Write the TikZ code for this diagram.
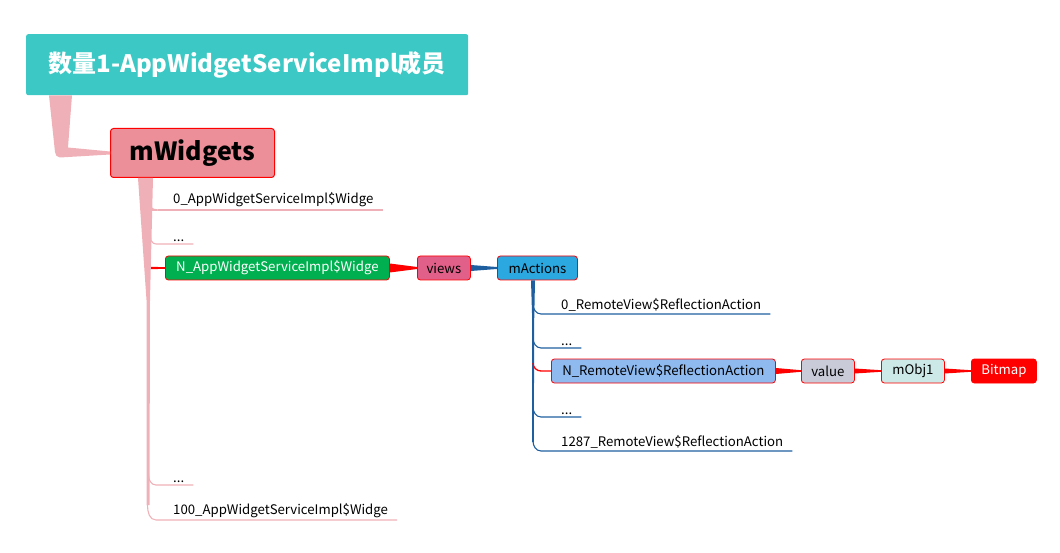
\documentclass[tikz,border=0pt]{standalone}
\usepackage{fontspec}
\setmainfont{Noto Sans CJK SC}
\usetikzlibrary{calc}
\definecolor{teal1}{HTML}{3CC8C4}
\definecolor{mwfill}{HTML}{EC8F99}
\definecolor{pinkc}{HTML}{F0B0B7}
\definecolor{green1}{HTML}{00B050}
\definecolor{viewsf}{HTML}{E0608A}
\definecolor{mactf}{HTML}{2CA8E0}
\definecolor{bluel}{HTML}{1F5F9F}
\definecolor{nremf}{HTML}{8EBAF0}
\definecolor{valuef}{HTML}{C9CCD8}
\definecolor{mobjf}{HTML}{CDE9E7}
\definecolor{redc}{HTML}{FF0000}
\begin{document}
\begin{tikzpicture}[x=1pt,y=-1pt,
  box/.style={draw=redc, line width=0.8pt, rounded corners=3pt, minimum height=24pt, inner xsep=0pt, inner ysep=0pt, font=\fontsize{13.2}{15}\selectfont, text=black, anchor=west},
  lbl/.style={anchor=south west, inner xsep=0pt, inner ysep=2.5pt, font=\fontsize{13.2}{15}\selectfont, text=black},
  pinkl/.style={draw=pinkc, line width=1.1pt},
  bluell/.style={draw=bluel, line width=1.1pt},
  redl/.style={draw=redc, line width=1.3pt}
]
\useasboundingbox (0,0) rectangle (1060,553);

% title
\node[fill=teal1, rounded corners=2pt, minimum width=442pt, minimum height=61pt, inner sep=0pt, anchor=north west, text=white, font=\fontsize{24}{28}\selectfont\bfseries] (title) at (26,34) {数量1-AppWidgetServiceImpl成员};

% mWidgets
\node[draw=redc, line width=1pt, fill=mwfill, rounded corners=3pt, minimum width=164pt, minimum height=49pt, inner sep=0pt, anchor=north west, text=black, font=\fontsize{25}{28}\selectfont\bfseries] (mw) at (110,128) {mWidgets};

% title -> mWidgets connector
\fill[pinkc] ($(title.south west)+(23,0)$) -- ($(title.south west)+(46,0)$) -- ($(mw.west)+(-42,-5.5)$) -- ($(mw.west)+(0,-1.5)$) -- ($(mw.west)+(0,1.5)$) -- ($(mw.west)+(-50,4.5)$) to[out=180,in=-90] ($(mw.west)+(-55,-1)$) -- cycle;

% trunk from mWidgets
\coordinate (tA) at ($(mw.south west)+(28,0)$);
\coordinate (tB) at ($(mw.south west)+(43,0)$);
\fill[pinkc] (tA) -- (tB) -- (150,300) -- (149.5,505) -- (146.5,505) -- (146.5,300) -- cycle;

% branch labels
\node[lbl] (w0) at (173,210) {0\_AppWidgetServiceImpl\$Widge};
\node[lbl] (wd1) at (173,244) {...};
\node[box, fill=green1, text=white, minimum width=224pt] (wN) at (165,268) {N\_AppWidgetServiceImpl\$Widge};
\node[lbl] (wd2) at (173,485) {...};
\node[lbl] (w100) at (173,520) {100\_AppWidgetServiceImpl\$Widge};

\coordinate (bd1) at (150,234);
\coordinate (bN) at (151,268);
\coordinate (bd2) at (148.5,475);
\coordinate (b100) at (147.5,505);

\fill[pinkc] (148,201) to[out=-90,in=180] (158,209.4) -- (165,209.4) -- (165,210.6) -- (155,210.8) to[out=180,in=90] (146,214) -- cycle;
\draw[pinkl] (158,210) -- ($(w0.south east)+(9,0)$);
\draw[pinkl] (bd1) to[out=-90,in=180] (156,244) -- ($(wd1.south east)+(9,0)$);
\fill[redc] ($(bN)+(0,-1.2)$) -- ($(wN.west)+(0,-0.8)$) -- ($(wN.west)+(0,0.8)$) -- ($(bN)+(0,1.2)$) -- cycle;
\draw[pinkl] (bd2) to[out=-90,in=180] (156,485) -- ($(wd2.south east)+(9,0)$);
\draw[pinkl] (b100) to[out=-90,in=180] (156,520) -- ($(w100.south east)+(9,0)$);

% views & mActions
\node[box, fill=viewsf, minimum width=53pt] (views) at (417,268) {views};
\node[box, fill=mactf, minimum width=80pt] (mact) at (497,268) {mActions};

\fill[redc] ($(wN.east)+(0,-4.5)$) -- ($(views.west)+(0,-1)$) -- ($(views.west)+(0,1)$) -- ($(wN.east)+(0,4.5)$) -- cycle;
\fill[bluel] ($(views.east)+(0,-3)$) -- ($(mact.west)+(0,-1)$) -- ($(mact.west)+(0,1)$) -- ($(views.east)+(0,3)$) -- cycle;

% blue trunk
\coordinate (mA) at ($(mact.south west)+(34,0)$);
\coordinate (mB) at ($(mact.south west)+(38,0)$);
\fill[bluel] (mA) -- (mB) -- (534.2,320) -- (533.8,442) -- (532.2,442) -- (532.2,320) -- cycle;

\node[lbl] (r0) at (561,314) {0\_RemoteView\$ReflectionAction};
\node[lbl] (rd1) at (561,348) {...};
\node[box, fill=nremf, minimum width=224pt] (rN) at (551,371) {N\_RemoteView\$ReflectionAction};
\node[lbl] (rd2) at (561,417) {...};
\node[lbl] (r1287) at (561,451) {1287\_RemoteView\$ReflectionAction};

\coordinate (c0) at (533,304);
\coordinate (cd1) at (533,338);
\coordinate (cN) at (533,363);
\coordinate (cd2) at (533,407);
\coordinate (c1287) at (533,441);

\draw[bluell] (c0) to[out=-90,in=180] (541,314) -- ($(r0.south east)+(9,0)$);
\draw[bluell] (cd1) to[out=-90,in=180] (541,348) -- ($(rd1.south east)+(9,0)$);
\draw[redl] (cN) to[out=-90,in=180] (541,371) -- (rN.west);
\draw[bluell] (cd2) to[out=-90,in=180] (541,417) -- ($(rd2.south east)+(9,0)$);
\draw[bluell] (c1287) to[out=-90,in=180] (541,451) -- ($(r1287.south east)+(9,0)$);

% value chain
\node[box, fill=valuef, minimum width=53pt] (val) at (801,371) {value};
\node[box, fill=mobjf, minimum width=63pt] (mobj) at (881,371) {mObj1};
\node[box, fill=redc, text=white, minimum width=65pt] (bmp) at (971,371) {Bitmap};

\fill[redc] ($(rN.east)+(0,-3)$) -- ($(val.west)+(0,-0.8)$) -- ($(val.west)+(0,0.8)$) -- ($(rN.east)+(0,3)$) -- cycle;
\fill[redc] ($(val.east)+(0,-2.5)$) -- ($(mobj.west)+(0,-0.8)$) -- ($(mobj.west)+(0,0.8)$) -- ($(val.east)+(0,2.5)$) -- cycle;
\fill[redc] ($(mobj.east)+(0,-2.5)$) -- ($(bmp.west)+(0,-0.8)$) -- ($(bmp.west)+(0,0.8)$) -- ($(mobj.east)+(0,2.5)$) -- cycle;
\end{tikzpicture}
\end{document}
